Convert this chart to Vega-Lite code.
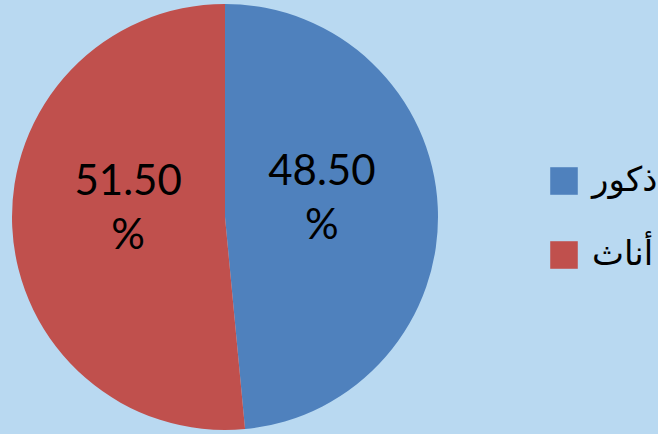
{
  "$schema": "https://vega.github.io/schema/vega-lite/v6.json",
  "width": 450,
  "height": 434,
  "padding": 0,
  "background": "#b9d9f1",
  "config": {"view": {"stroke": null}},
  "data": {
    "values": [
      {"gender": "ذكور", "value": 48.5, "label": "48.50\n%", "order": 1},
      {"gender": "أناث", "value": 51.5, "label": "51.50\n%", "order": 2}
    ]
  },
  "encoding": {
    "theta": {"field": "value", "type": "quantitative", "stack": true},
    "order": {"field": "order", "type": "quantitative"},
    "color": {
      "field": "gender",
      "type": "nominal",
      "sort": ["ذكور", "أناث"],
      "scale": {"domain": ["ذكور", "أناث"], "range": ["#4f81bd", "#c0504d"]},
      "legend": {
        "title": null,
        "orient": "none",
        "legendX": 547,
        "legendY": 164,
        "symbolType": "square",
        "symbolSize": 760,
        "symbolStrokeWidth": 0,
        "symbolOpacity": 1,
        "labelFont": "DejaVu Sans",
        "labelFontSize": 34,
        "labelColor": "#000000",
        "labelOffset": 11,
        "labelLimit": 300,
        "rowPadding": 40,
        "padding": 0
      }
    }
  },
  "layer": [
    {"mark": {"type": "arc", "outerRadius": 213, "stroke": null}},
    {
      "mark": {
        "type": "text",
        "radius": 97,
        "dy": -40,
        "font": "Lato",
        "fontSize": 42,
        "lineBreak": "\n",
        "lineHeight": 54,
        "baseline": "middle",
        "align": "center",
        "color": "#000000"
      },
      "encoding": {
        "text": {"field": "label"},
        "color": {"value": "#000000"}
      }
    }
  ]
}
